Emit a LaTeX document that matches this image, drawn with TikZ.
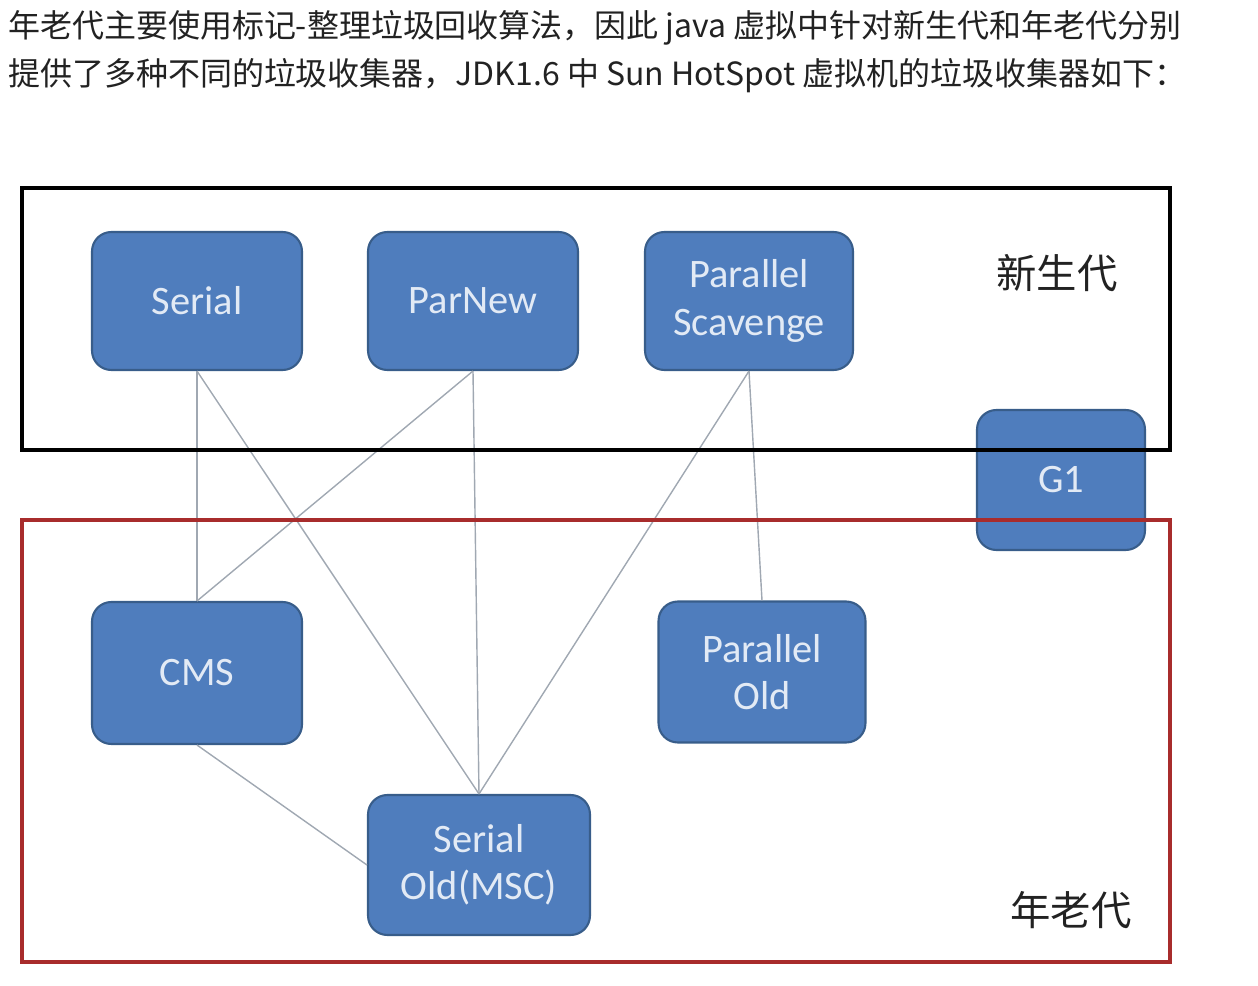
\documentclass[tikz,border=0pt]{standalone}
\usepackage{fontspec}
\usepackage{xcolor}
\usepackage{tikz}
\setmainfont{Liberation Sans}
\newfontfamily\cjk{Noto Sans CJK SC}
\newfontfamily\boxfont{Carlito}
\definecolor{boxFill}{RGB}{79, 125, 189}
\definecolor{boxBorder}{RGB}{56, 93, 138}
\definecolor{boxText}{RGB}{226, 234, 245}
\definecolor{linkColor}{RGB}{160, 168, 178}
\definecolor{oldRed}{RGB}{168, 44, 44}
\definecolor{textColor}{RGB}{34, 34, 34}

\begin{document}
\begin{tikzpicture}[x=0.02cm, y=-0.02cm,
    gcbox/.style={draw=boxBorder, fill=boxFill, line width=1.2pt, rounded corners=11pt,
      text=boxText, align=center, inner sep=0pt,
      font=\boxfont\fontsize{23}{27}\selectfont},
    link/.style={linkColor, line width=0.8pt},
    genlabel/.style={textColor, font=\cjk\fontsize{23}{26}\selectfont}]
    \useasboundingbox (0,0) rectangle (1258,986);

    % Heading text
    \node[anchor=west, textColor, font=\cjk\fontsize{18.2}{27}\selectfont] (line1) at (2,28)
      {年老代主要使用标记-整理垃圾回收算法，因此 java 虚拟中针对新生代和年老代分别};
    \node[anchor=west, textColor, font=\cjk\fontsize{18.2}{27}\selectfont] (line2) at (2,76)
      {提供了多种不同的垃圾收集器，JDK1.6 中 Sun HotSpot 虚拟机的垃圾收集器如下：};

    % Young generation collectors
    \node[gcbox, minimum width=4.2cm, minimum height=2.76cm] (serial) at (197,301) {Serial};
    \node[gcbox, minimum width=4.2cm, minimum height=2.76cm] (parnew) at (473,301) {ParNew};
    \node[gcbox, minimum width=4.16cm, minimum height=2.76cm] (parscav) at (749,301) {Parallel\\Scavenge};

    % G1 spans both generations
    \node[gcbox, minimum width=3.36cm, minimum height=2.8cm] (g1) at (1061,480) {G1};

    % Old generation collectors
    \node[gcbox, minimum width=4.2cm, minimum height=2.84cm] (cms) at (197,673) {CMS};
    \node[gcbox, minimum width=4.14cm, minimum height=2.82cm] (parold) at (762,672) {Parallel\\Old};
    \node[gcbox, minimum width=4.44cm, minimum height=2.8cm] (serold) at (479,865) {Serial\\Old(MSC)};

    % Which collectors work together
    \draw[link] (serial.south) -- (cms.north);
    \draw[link] (serial.south) -- (serold.north);
    \draw[link] (parnew.south) -- (cms.north);
    \draw[link] (parnew.south) -- (serold.north);
    \draw[link] (parscav.south) -- (serold.north);
    \draw[link] (parscav.south) -- (parold.north);
    \draw[link] (cms.south) -- (serold.west);

    % Generation frames
    \draw[line width=2.2pt] (22,188) rectangle (1170,450);
    \draw[oldRed, line width=1.8pt] (22,520) rectangle (1170,962);
    \node[genlabel] (young) at (1057,273) {新生代};
    \node[genlabel] (old) at (1071,910) {年老代};
\end{tikzpicture}
\end{document}
